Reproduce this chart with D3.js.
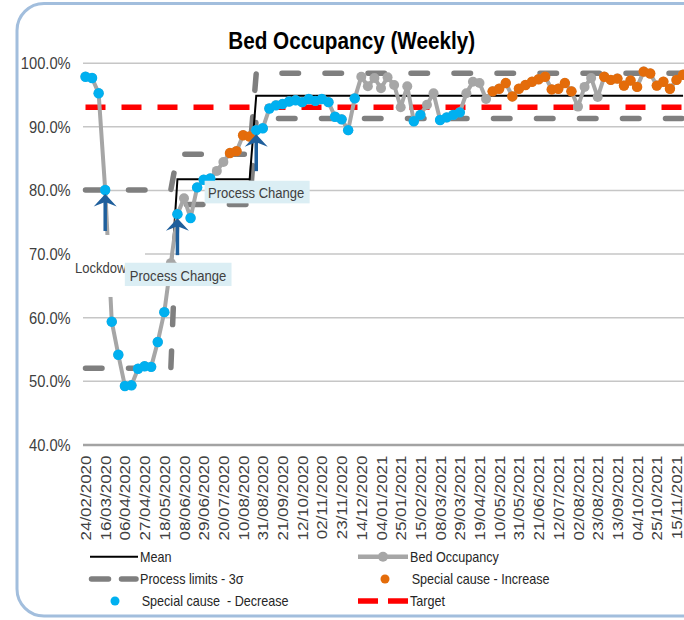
<!DOCTYPE html>
<html>
  <head>
    <meta charset="utf-8" />
    <style>
      body {
        margin: 0;
        background: #fff;
      }
      svg {
        display: block;
        font-family: "Liberation Sans", Arial, sans-serif;
      }
      .x .domain,
      .y .domain {
        display: none;
      }
      .y .tick line {
        stroke: #c6c6c6;
        stroke-width: 1.5;
      }
      .tick text {
        fill: #404040;
      }
      .legend text {
        font-size: 14px;
        fill: #262626;
      }
    </style>
  </head>

  <body>
    <svg width="684" height="620"></svg>

    <script src="https://d3js.org/d3.v7.min.js"></script>
    <script>
      // x tick labels, one every 3 weeks starting 24/02/2020
      let weekLabels = [
        "24/02/2020", "16/03/2020", "06/04/2020", "27/04/2020", "18/05/2020",
        "08/06/2020", "29/06/2020", "20/07/2020", "10/08/2020", "31/08/2020",
        "21/09/2020", "12/10/2020", "02/11/2020", "23/11/2020", "14/12/2020",
        "04/01/2021", "25/01/2021", "15/02/2021", "08/03/2021", "29/03/2021",
        "19/04/2021", "10/05/2021", "31/05/2021", "21/06/2021", "12/07/2021",
        "02/08/2021", "23/08/2021", "13/09/2021", "04/10/2021", "25/10/2021",
        "15/11/2021",
      ];
      let tickWeeks = [0, 3, 6, 9, 12, 15, 18, 21, 24, 27, 30, 33, 36, 39, 42, 45,
        48, 51, 54, 57, 60, 63, 66, 69, 72, 75, 78, 81, 84, 87, 90];

      // weekly bed occupancy (%)
      let occupancy = [
        97.8, 97.6, 95.2, 80.0, 59.3, 54.1, 49.2, 49.3, 51.9, 52.3,
        52.2, 56.1, 60.8, 68.5, 76.2, 78.7, 75.6, 80.4, 81.6, 81.8,
        83.0, 84.4, 85.8, 86.1, 88.6, 88.4, 89.4, 89.7, 92.8, 93.3,
        93.5, 93.9, 94.1, 93.8, 94.3, 94.0, 94.3, 93.8, 91.5, 91.1,
        89.4, 94.4, 97.8, 96.3, 97.6, 96.0, 97.7, 96.5, 93.0, 96.3,
        90.8, 91.8, 93.4, 95.2, 91.0, 91.4, 91.8, 92.2, 95.2, 97.0,
        96.8, 94.3, 95.5, 95.9, 96.8, 94.7, 95.9, 96.5, 97.0, 97.4,
        97.8, 95.8, 95.9, 96.8, 95.5, 93.1, 96.2, 97.6, 94.6, 97.8,
        97.3, 97.5, 96.4, 97.2, 96.2, 98.6, 98.3, 96.4, 97.0, 95.9,
        97.3, 98.1,
      ];

      // special cause flag per week: D = decrease, I = increase, - = none
      let causes = [
        "D", "D", "D", "D", "D", "D", "D", "D", "D", "D",
        "D", "D", "D", "-", "D", "-", "D", "D", "D", "D",
        "-", "-", "I", "I", "I", "I", "D", "D", "D", "D",
        "D", "D", "D", "D", "D", "D", "D", "D", "D", "D",
        "D", "D", "-", "-", "-", "-", "-", "-", "-", "-",
        "D", "D", "-", "-", "D", "D", "D", "D", "-", "-",
        "-", "-", "I", "I", "I", "I", "I", "I", "I", "I",
        "I", "I", "I", "I", "I", "-", "-", "-", "-", "I",
        "I", "I", "I", "I", "I", "I", "I", "I", "I", "I",
        "I", "I",
      ];

      // process phases
      let phaseStart = [0, 14, 26];
      let phaseMean = [66.0, 81.7, 94.8];
      let phaseUcl = [80.0, 85.6, 98.35];
      let phaseLcl = [52.0, 77.7, 91.25];
      let targetValue = 93;

      let yTicks = [40, 50, 60, 70, 80, 90, 100];

      let annotationWeeks = [3, 14, 26];
      let annotationTexts = ["Lockdown", "Process Change", "Process Change"];

      // ---------------------------------------------------------------
      let svg = d3.select("svg");
      let sx = 0.9; // text looks horizontally squeezed in the original

      let x = d3.scaleLinear().domain([0, 90]).range([85.5, 676.5]);
      let y = d3.scaleLinear().domain([40, 100]).range([444.5, 62.7]);

      let phaseOf = (w) => d3.bisectRight(phaseStart, w) - 1;

      let rows = occupancy.map((v, i) => ({
        week: i,
        v: v,
        cause: causes[i],
        mean: phaseMean[phaseOf(i)],
        ucl: phaseUcl[phaseOf(i)],
        lcl: phaseLcl[phaseOf(i)],
        target: targetValue,
      }));

      // outer rounded frame
      svg
        .append("rect")
        .attr("x", 17)
        .attr("y", 3.5)
        .attr("width", 740)
        .attr("height", 612.5)
        .attr("rx", 27)
        .attr("fill", "#fff")
        .attr("stroke", "#a2bedd")
        .attr("stroke-width", 3);

      svg
        .append("text")
        .attr("text-anchor", "middle")
        .attr("transform", `translate(351.7,49.3) scale(${sx},1)`)
        .style("font-size", "23px")
        .style("font-weight", "bold")
        .attr("fill", "#000")
        .text("Bed Occupancy (Weekly)");

      // y axis + gridlines
      svg
        .append("g")
        .attr("class", "y axis")
        .attr("transform", "translate(83,0)")
        .call(
          d3
            .axisLeft(y)
            .tickValues(yTicks)
            .tickSize(-660)
            .tickPadding(0)
            .tickFormat((d) => d.toFixed(1) + "%")
        )
        .attr("font-family", null)
        .call((g) =>
          g
            .selectAll(".tick text")
            .attr("x", 0)
            .attr("dy", null)
            .attr("text-anchor", "end")
            .attr("transform", "translate(-12.3,5.8) scale(0.92,1)")
            .style("font-size", "16px")
        )
        .call((g) =>
          g
            .selectAll(".tick")
            .filter((d) => d === 40)
            .select("line")
            .style("stroke", "#a3a3a3")
            .style("stroke-width", 2.5)
        );

      // x axis labels
      svg
        .append("g")
        .attr("class", "x axis")
        .attr("transform", `translate(0,${y(40)})`)
        .call(
          d3
            .axisBottom(x)
            .tickValues(tickWeeks)
            .tickSize(0)
            .tickFormat((d, i) => weekLabels[i])
        )
        .attr("font-family", null)
        .call((g) =>
          g
            .selectAll(".tick text")
            .attr("y", 0)
            .attr("dy", null)
            .attr("text-anchor", "end")
            .attr("transform", `translate(5,11) scale(${sx},1) rotate(-90)`)
            .style("font-size", "17px")
        );

      let lineOf = (key) =>
        d3
          .line()
          .x((d) => x(d.week))
          .y((d) => y(d[key]));

      let plot = svg.append("g").attr("class", "plot");

      for (let key of ["ucl", "lcl"]) {
        plot
          .append("path")
          .datum(rows)
          .attr("d", lineOf(key))
          .attr("fill", "none")
          .attr("stroke", "#7f7f7f")
          .attr("stroke-width", 5.5)
          .attr("stroke-linecap", "round")
          .attr("stroke-dasharray", "16.5,26.5");
      }

      plot
        .append("path")
        .datum(rows)
        .attr("d", lineOf("mean"))
        .attr("fill", "none")
        .attr("stroke", "#000")
        .attr("stroke-width", 2);

      plot
        .append("path")
        .datum(rows)
        .attr("d", lineOf("target"))
        .attr("fill", "none")
        .attr("stroke", "#ff0000")
        .attr("stroke-width", 5.5)
        .attr("stroke-dasharray", "20,16");

      plot
        .append("path")
        .datum(rows)
        .attr("d", lineOf("v"))
        .attr("fill", "none")
        .attr("stroke", "#a6a6a6")
        .attr("stroke-width", 4)
        .attr("stroke-linejoin", "round");

      let causeColor = { D: "#00b0f0", I: "#e46c0a", "-": "#a6a6a6" };

      plot
        .selectAll(".pt")
        .data(rows)
        .join("circle")
        .attr("class", "pt")
        .attr("cx", (d) => x(d.week))
        .attr("cy", (d) => y(d.v))
        .attr("r", 5)
        .attr("fill", "#a6a6a6");

      plot
        .selectAll(".special")
        .data(rows.filter((d) => d.cause !== "-"))
        .join("circle")
        .attr("class", "special")
        .attr("cx", (d) => x(d.week))
        .attr("cy", (d) => y(d.v))
        .attr("r", 5.2)
        .attr("fill", (d) => causeColor[d.cause]);

      // annotations: arrow up to the point + label box below it
      let boxLayout = [
        { dx: -33.2, dy: 45, w: 73, h: 62, tx: 3, ty: 38, fill: "#ffffff" },
        { dx: -52.6, dy: 48.6, w: 106.7, h: 23.3, tx: 5, ty: 18, fill: "#dbeef4" },
        { dx: -51.6, dy: 50.6, w: 105, h: 22.6, tx: 3.3, ty: 17, fill: "#dbeef4" },
      ];
      let arrowColor = "#1f5f9c";

      annotationWeeks.forEach((w, i) => {
        let px = x(w);
        let py = y(occupancy[w]);
        let lay = boxLayout[i];
        let g = svg.append("g").attr("class", "annotation");

        g.append("rect")
          .attr("x", px + lay.dx)
          .attr("y", py + lay.dy)
          .attr("width", lay.w)
          .attr("height", lay.h)
          .attr("fill", lay.fill);

        g.append("text")
          .attr("transform", `translate(${px + lay.dx + lay.tx},${py + lay.dy + lay.ty}) scale(${sx},1)`)
          .style("font-size", "14.5px")
          .attr("fill", "#404040")
          .text(annotationTexts[i]);

        let tip = py + 4;
        g.append("line")
          .attr("x1", px)
          .attr("x2", px)
          .attr("y1", tip + 7)
          .attr("y2", tip + 37)
          .attr("stroke", arrowColor)
          .attr("stroke-width", 3.5);
        g.append("path")
          .attr("d", `M${px},${tip} L${px - 11.5},${tip + 12.5} L${px},${tip + 8} L${px + 11.5},${tip + 12.5} Z`)
          .attr("fill", arrowColor);
      });

      // legend
      let legend = svg.append("g").attr("class", "legend");
      let legendText = (tx, ty, label) =>
        legend
          .append("text")
          .attr("transform", `translate(${tx},${ty + 5}) scale(${sx},1)`)
          .text(label);

      legend.append("line").attr("x1", 90).attr("x2", 138).attr("y1", 556.7).attr("y2", 556.7)
        .attr("stroke", "#000").attr("stroke-width", 2);
      legendText(140, 556.7, "Mean");

      legend.append("line").attr("x1", 358).attr("x2", 408).attr("y1", 556.7).attr("y2", 556.7)
        .attr("stroke", "#a6a6a6").attr("stroke-width", 4.5);
      legend.append("circle").attr("cx", 383).attr("cy", 556.7).attr("r", 5).attr("fill", "#a6a6a6");
      legendText(410, 556.7, "Bed Occupancy");

      legend.append("line").attr("x1", 91.5).attr("x2", 136).attr("y1", 579).attr("y2", 579)
        .attr("stroke", "#7f7f7f").attr("stroke-width", 5.5).attr("stroke-linecap", "round")
        .attr("stroke-dasharray", "17,13");
      legendText(140, 579, "Process limits - 3σ");

      legend.append("circle").attr("cx", 385).attr("cy", 579).attr("r", 4.5).attr("fill", "#e46c0a");
      legendText(411.7, 579, "Special cause - Increase");

      legend.append("circle").attr("cx", 115).attr("cy", 601).attr("r", 4.5).attr("fill", "#00b0f0");
      legendText(141.7, 601, "Special cause  - Decrease").style("white-space", "pre");

      legend.append("line").attr("x1", 358).attr("x2", 408).attr("y1", 601).attr("y2", 601)
        .attr("stroke", "#ff0000").attr("stroke-width", 5.5).attr("stroke-dasharray", "20,10");
      legendText(410, 601, "Target");
    </script>
  </body>
</html>
